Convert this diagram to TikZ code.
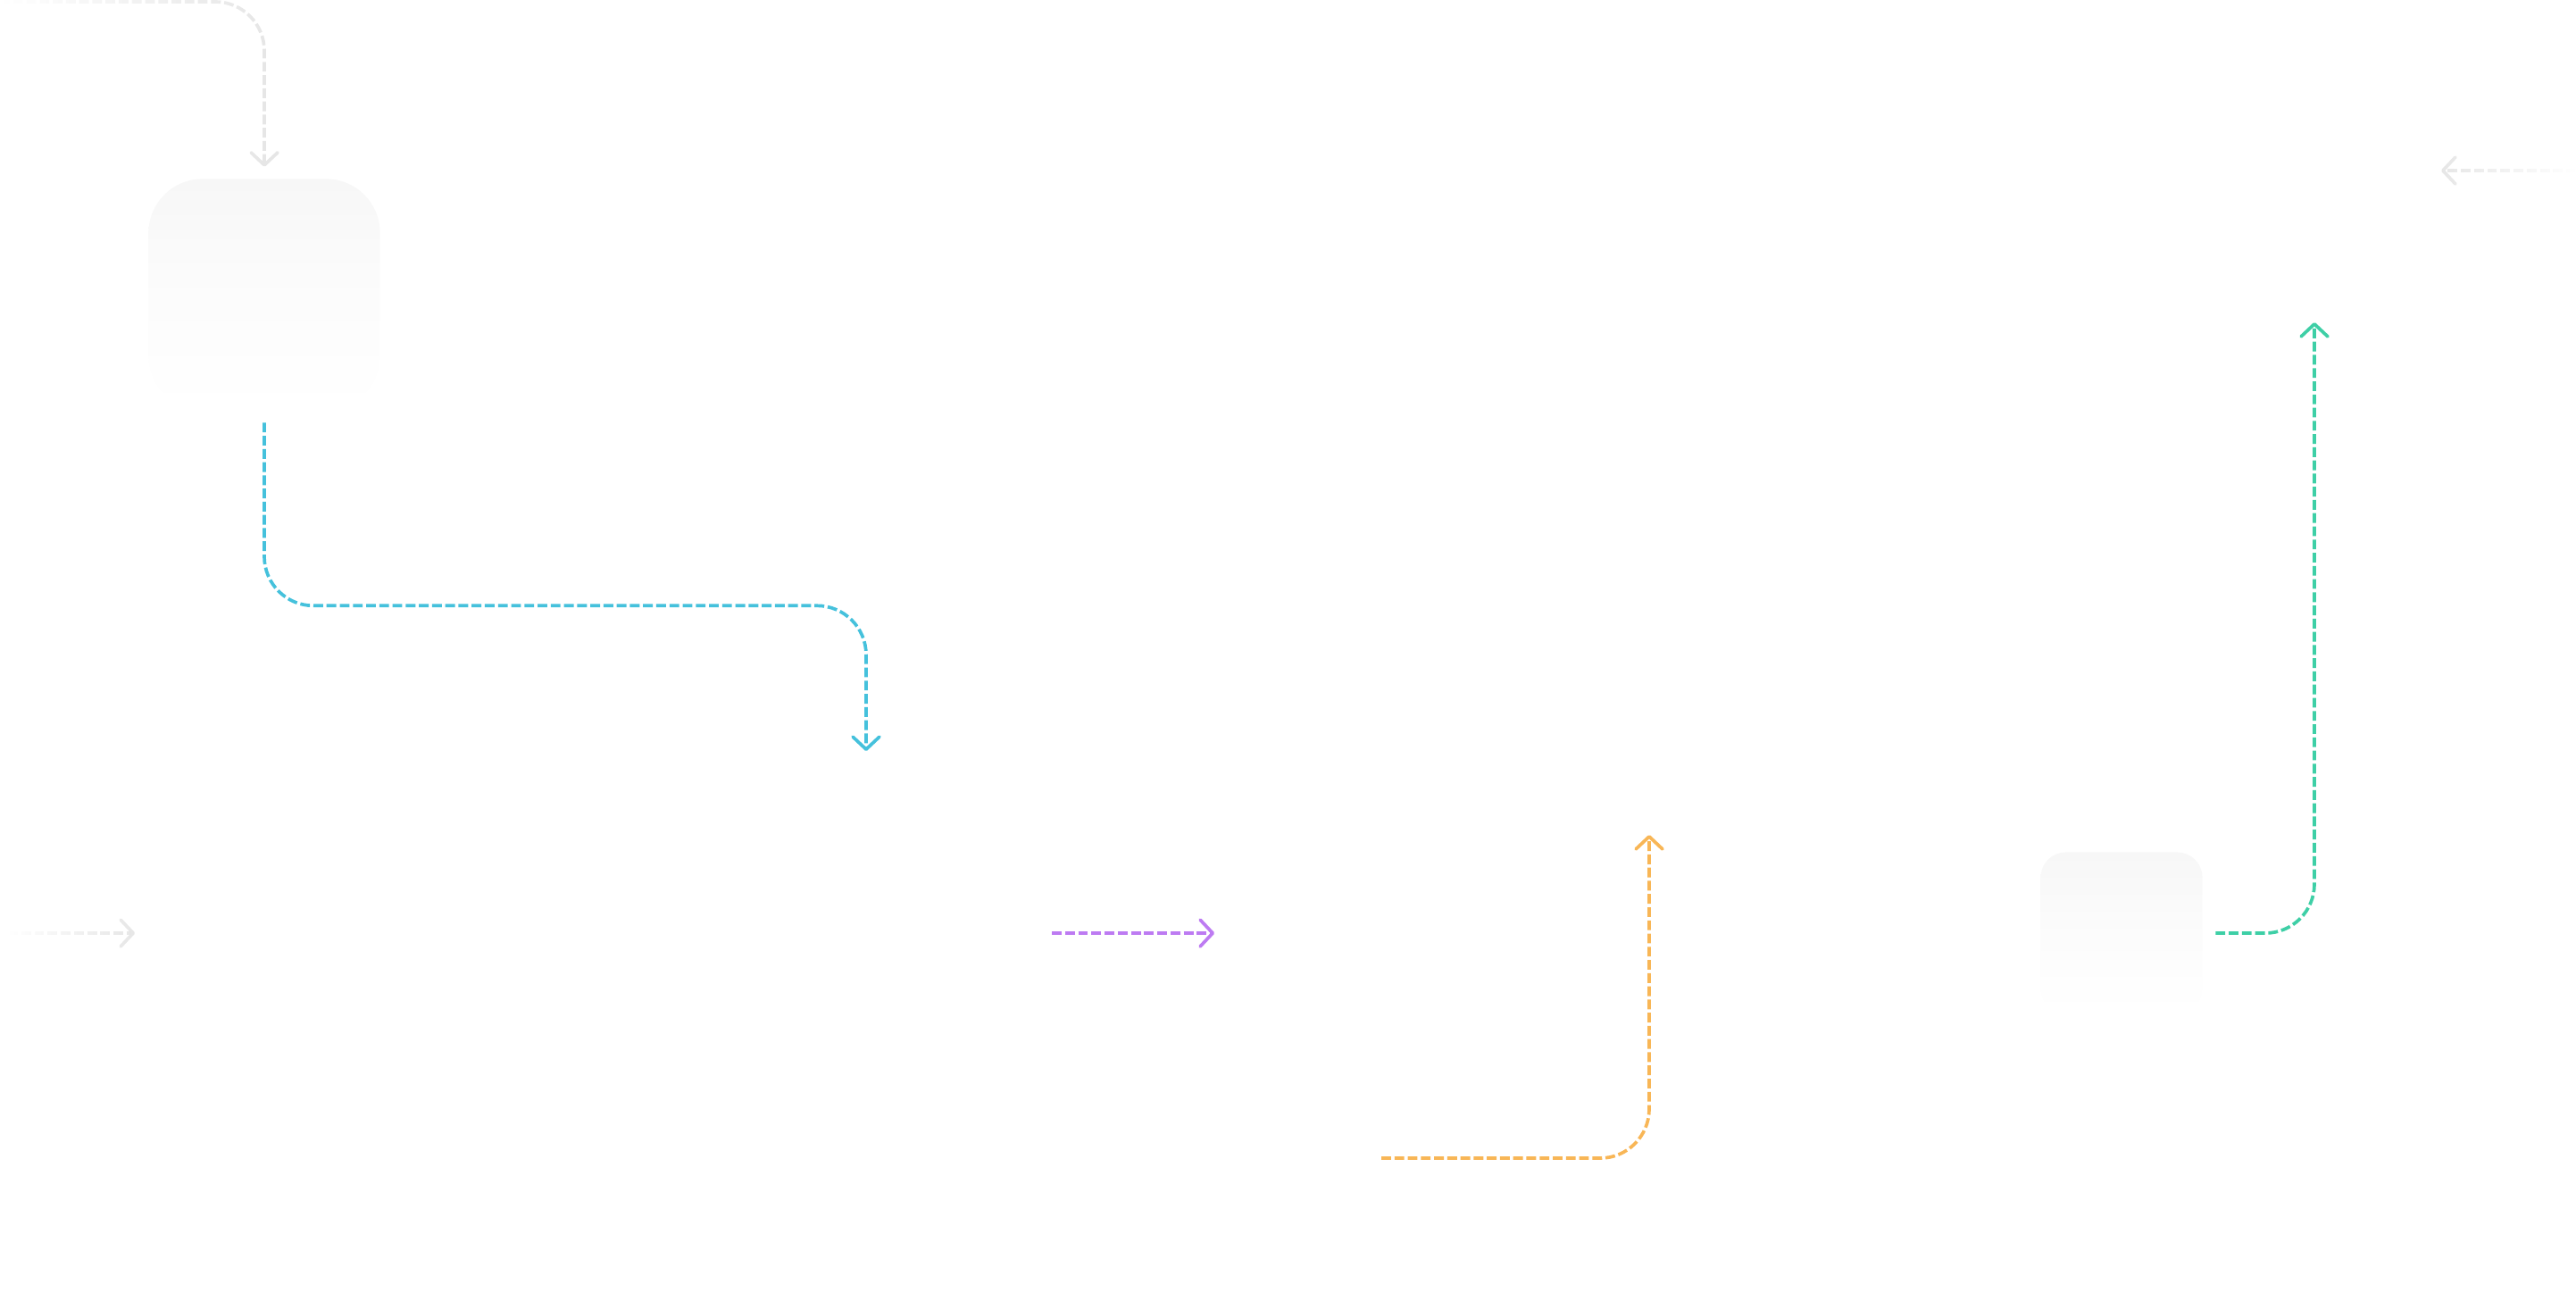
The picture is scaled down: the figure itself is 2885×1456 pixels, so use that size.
\documentclass[tikz,border=0pt]{standalone}
\usetikzlibrary{arrows.meta,positioning,fadings}
\definecolor{FlowGrey}{HTML}{E6E6E6}
\definecolor{FlowCyan}{HTML}{45C1DC}
\definecolor{FlowPurple}{HTML}{BD7BF2}
\definecolor{FlowOrange}{HTML}{F8B656}
\definecolor{FlowGreen}{HTML}{3ECFA6}
\definecolor{TileTop}{HTML}{F7F7F7}

\begin{document}
\begin{tikzpicture}[x=0.01cm, y=-0.01cm,
    flow/.style={draw=#1, line width=1.05pt, dash pattern=on 3.1pt off 1.1pt, rounded corners=0.55cm,
      -{Straight Barb[length=4pt,width=8.5pt,round]}},
    tile/.style={top color=TileTop, bottom color=white, middle color=TileTop!40!white, inner sep=0pt, minimum size=#1}]
    \useasboundingbox (0,0) rectangle (2885,1456);

    % Tiles
    \node[tile=2.59cm, rounded corners=0.6cm] (tile1) at (296,330) {};
    \node[tile=1.81cm, rounded corners=0.28cm] (tile2) at (2376,1045) {};

    % Loose ends
    \coordinate (topIn) at (0,2);
    \coordinate (cyanEnd) at (970,841);
    \coordinate (leftIn) at (9,1045);
    \coordinate (leftEnd) at (151,1045);
    \coordinate (purpleIn) at (1178,1045);
    \coordinate (purpleEnd) at (1360,1045);
    \coordinate (orangeIn) at (1547,1297);
    \coordinate (orangeEnd) at (1847,935);
    \coordinate (greenEnd) at (2592,361);
    \coordinate (rightIn) at (2885,191);
    \coordinate (rightEnd) at (2734,191);

    % Connectors (the faded ones get a taller box so the tip keeps its fading)
    \draw[flow=FlowGrey, path fading=west, shorten >=0.13cm] (topIn) -| (tile1.north);
    \draw[flow=FlowCyan, shorten <=0.13cm] (tile1.south) -- ++(0,218) -| (cyanEnd);
    \draw[flow=FlowGrey, path fading=west] (leftEnd) ++(0,-20) ++(0,40) (leftIn) -- (leftEnd);
    \draw[flow=FlowPurple] (purpleIn) -- (purpleEnd);
    \draw[flow=FlowOrange] (orangeIn) -| (orangeEnd);
    \draw[flow=FlowGreen, shorten <=0.14cm] (tile2.east) -| (greenEnd);
    \draw[flow=FlowGrey, path fading=east] (rightEnd) ++(0,-20) ++(0,40) (rightIn) -- (rightEnd);
\end{tikzpicture}
\end{document}
